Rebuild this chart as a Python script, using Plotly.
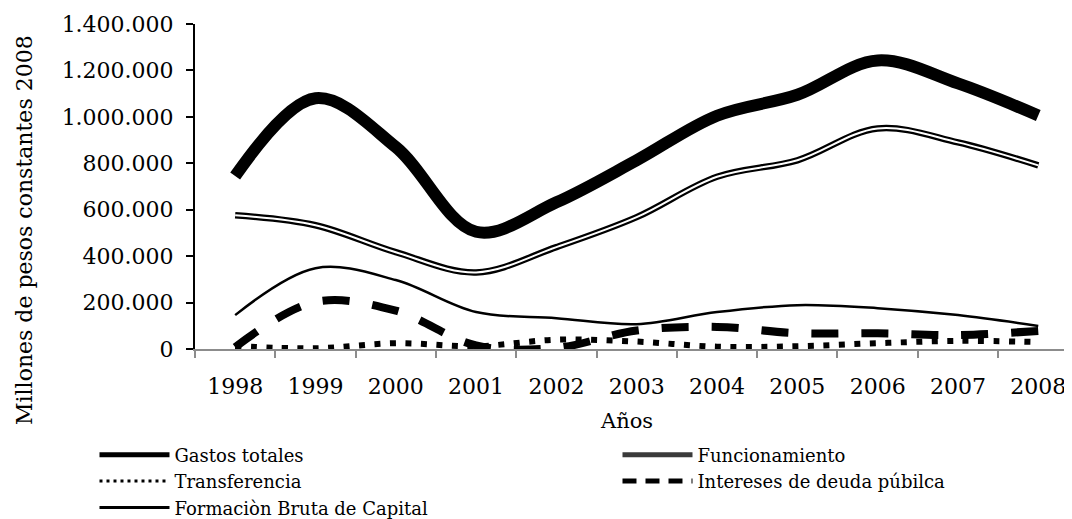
import plotly.graph_objects as go

years = ["1998", "1999", "2000", "2001", "2002", "2003", "2004", "2005", "2006", "2007", "2008"]
gastos_totales = [745000, 1080000, 870000, 505000, 632000, 813000, 1005000, 1095000, 1243000, 1144000, 1006000]
funcionamiento = [576000, 533000, 417000, 330000, 439000, 568000, 742000, 813000, 950000, 890000, 791000]
transferencia = [13000, 3000, 25000, 12000, 40000, 32000, 10000, 12000, 25000, 35000, 30000]
intereses = [8000, 203000, 165000, 15000, 5000, 80000, 95000, 68000, 68000, 60000, 78000]
formacion = [146000, 348000, 297000, 159000, 133000, 107000, 159000, 189000, 176000, 146000, 99000]

names = ["Gastos totales", "Funcionamiento", "Transferencia",
         "Intereses de deuda púbilca", "Formaciòn Bruta de Capital"]
y_ticks = [0, 200000, 400000, 600000, 800000, 1000000, 1200000, 1400000]

FONT = "DejaVu Serif"

fig = go.Figure()
# plotted series (legend handled by proxy entries below)
fig.add_trace(go.Scatter(x=years, y=gastos_totales, name=names[0], mode="lines", showlegend=False,
                         line=dict(color="black", width=12, shape="spline")))
fig.add_trace(go.Scatter(x=years, y=funcionamiento, name=names[1], mode="lines", showlegend=False,
                         line=dict(color="black", width=6.5, shape="spline")))
fig.add_trace(go.Scatter(x=years, y=funcionamiento, name=names[1], mode="lines", showlegend=False,
                         line=dict(color="white", width=2, shape="spline")))
fig.add_trace(go.Scatter(x=years, y=transferencia, name=names[2], mode="lines", showlegend=False,
                         line=dict(color="black", width=6, shape="spline", dash="6px,9.5px")))
fig.add_trace(go.Scatter(x=years, y=intereses, name=names[3], mode="lines", showlegend=False,
                         line=dict(color="black", width=8, shape="spline", dash="27px,23px")))
fig.add_trace(go.Scatter(x=years, y=formacion, name=names[4], mode="lines", showlegend=False,
                         line=dict(color="black", width=2.5, shape="spline")))

# legend entries (no data drawn)
legend_styles = [
    dict(color="black", width=5),
    dict(color="#3a3a3a", width=5),
    dict(color="black", width=3, dash="3px,4px"),
    dict(color="black", width=5, dash="14px,9px"),
    dict(color="black", width=3),
]
for nm, st in zip(names, legend_styles):
    fig.add_trace(go.Scatter(x=[None], y=[None], name=nm, mode="lines", line=st,
                             showlegend=True, hoverinfo="skip"))

fig.update_layout(
    width=1064, height=511,
    margin=dict(l=187, r=0, t=16, b=170, autoexpand=False),
    paper_bgcolor="white", plot_bgcolor="white",
    font=dict(family=FONT, size=22, color="black"),
    separators=",.",
    showlegend=True,
    legend=dict(orientation="h", x=-0.1146, xanchor="left", y=-0.2692, yanchor="top",
                entrywidth=438, entrywidthmode="pixels", itemwidth=70,
                font=dict(family=FONT, size=18, color="black"),
                bgcolor="rgba(0,0,0,0)", traceorder="normal"),
)
fig.update_xaxes(type="category", range=[-0.5, 10.42], tickson="boundaries",
                 showline=True, linecolor="#8c8c8c", linewidth=2,
                 ticks="outside", ticklen=7, tickcolor="#8c8c8c", tickwidth=2,
                 showgrid=False, zeroline=False, ticklabelstandoff=17,
                 tickfont=dict(family=FONT, size=22, color="black"))
fig.update_yaxes(range=[0, 1400000], tickvals=y_ticks, tickformat=",d",
                 showline=True, linecolor="black", linewidth=2,
                 ticks="outside", ticklen=7, tickcolor="black", tickwidth=2,
                 showgrid=False, zeroline=False, ticklabelstandoff=8,
                 tickfont=dict(family=FONT, size=22, color="black"))

fig.add_annotation(text="Años", xref="paper", yref="paper",
                   x=(626 - 195) / 877, y=(349 - 421) / 325,
                   xanchor="center", yanchor="middle", showarrow=False,
                   font=dict(family=FONT, size=21, color="black"))
fig.add_annotation(text="Millones de pesos constantes 2008", xref="paper", yref="paper",
                   x=(24 - 195) / 877, y=(349 - 230) / 325, textangle=-90,
                   xanchor="center", yanchor="middle", showarrow=False,
                   font=dict(family=FONT, size=22, color="black"))

fig.write_html("out.html")
